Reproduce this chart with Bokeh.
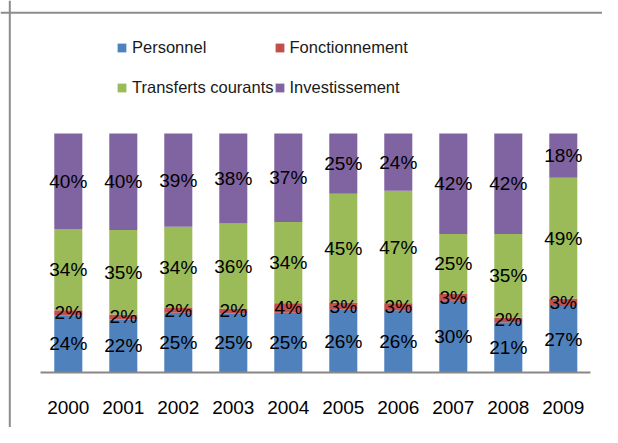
import numpy as np
from bokeh.plotting import figure
from bokeh.models import (Range1d, LinearAxis, FixedTicker, Span, Legend,
                          LegendItem, ColumnDataSource)
from bokeh.core.properties import value
from bokeh.embed import file_html
from bokeh.resources import INLINE

# ---- data ----
years = ["2000", "2001", "2002", "2003", "2004", "2005", "2006", "2007", "2008", "2009"]
series_names = ["Personnel", "Fonctionnement", "Transferts courants", "Investissement"]
personnel = [24, 22, 25, 25, 25, 26, 26, 30, 21, 27]
fonctionnement = [2, 2, 2, 2, 4, 3, 3, 3, 2, 3]
transferts = [34, 35, 34, 36, 34, 45, 47, 25, 35, 49]
investissement = [40, 40, 39, 38, 37, 25, 24, 42, 42, 18]
colors = ["#4F81BD", "#C0504D", "#9BBB59", "#8064A2"]

label_font = "Liberation Sans"
legend_font, legend_size = "Liberation Sans", "16.5px"

vals = np.array([personnel, fonctionnement, transferts, investissement], dtype=float)
totals = vals.sum(axis=0)
shares = vals / totals
keys = ["personnel", "fonctionnement", "transferts", "investissement"]
x = np.arange(len(years))

data = {"x": x}
for k, s in zip(keys, shares):
    data[k] = s
source = ColumnDataSource(data)

p = figure(width=602, height=427,
           x_range=Range1d(-1.2327, 9.713), y_range=Range1d(-0.2301, 1.5565),
           output_backend="svg", toolbar_location=None,
           x_axis_type=None, y_axis_type=None, min_border=0)
p.outline_line_color = None
p.background_fill_color = "white"
p.border_fill_color = "white"

renderers = p.vbar_stack(keys, x="x", width=0.51, fill_color=colors,
                         line_color=None, source=source)

# labels
lx, ly, lt = [], [], []
bottom = np.zeros(len(years))
for s, v in zip(shares, vals):
    mid = bottom + s / 2
    for i in range(len(years)):
        lx.append(x[i]); ly.append(mid[i]); lt.append(f"{int(v[i])}%")
    bottom = bottom + s
lsrc = ColumnDataSource(dict(x=lx, y=ly, t=lt))
p.text(x="x", y="y", text="t", source=lsrc, text_align="center",
       text_baseline="middle", text_font=value(label_font),
       text_font_size="19px", text_color="#000000")

# x axis at baseline
ax = LinearAxis(fixed_location=0, bounds=(-0.5, 9.5),
                ticker=FixedTicker(ticks=[int(i) for i in x]),
                major_label_overrides={int(i): yr for i, yr in enumerate(years)})
ax.axis_line_color = "#878787"
ax.axis_line_width = 2
ax.major_tick_line_color = None
ax.minor_tick_line_color = None
ax.major_tick_out = 0
ax.major_tick_in = 0
ax.major_label_standoff = 28
ax.major_label_text_font = label_font
ax.major_label_text_font_size = "19px"
ax.major_label_text_color = "#000000"
p.add_layout(ax, "below")

# chart border (left and top visible)
p.add_layout(Span(location=-1.0636, dimension="height", line_color="#8c8c8c", line_width=2))
p.add_layout(Span(location=1.505, dimension="width", line_color="#8c8c8c", line_width=2))

items = [LegendItem(label=n, renderers=[r]) for n, r in zip(series_names, renderers)]
legend = Legend(items=items, location=(116, 320), orientation="horizontal", ncols=2,
                glyph_width=11, glyph_height=11, label_standoff=5, spacing=0,
                label_height=40, padding=0, margin=0, border_line_color=None,
                background_fill_alpha=0, label_text_font=legend_font,
                label_text_font_size=legend_size, label_text_color="#1a1a1a")
p.add_layout(legend)

open("out.html", "w").write(file_html(p, INLINE))
